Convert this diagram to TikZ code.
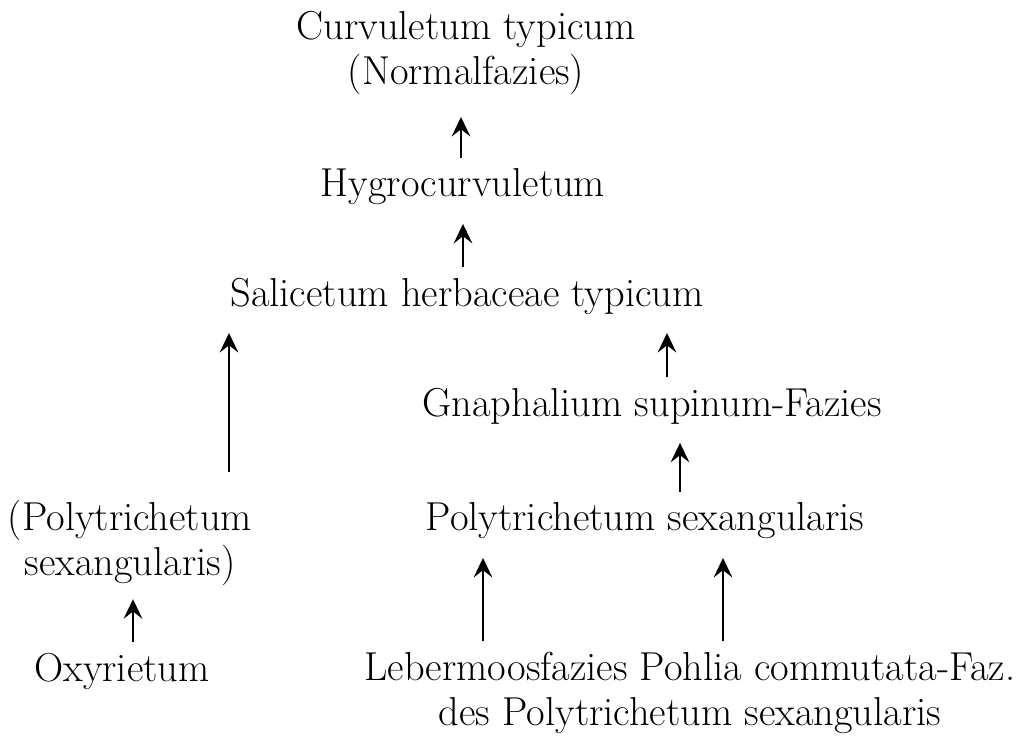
\documentclass[tikz,border=0pt]{standalone}
\usetikzlibrary{arrows.meta,calc,positioning}
\tikzset{
  pflanze/.style={inner sep=0pt, font=\fontsize{23}{25.6}\selectfont, align=center},
  folge/.style={line width=1.7pt, shorten <=6pt, shorten >=9pt,
    -{Stealth[length=11pt,width=10.5pt,inset=4pt,sep=1.5pt]}}
}

\begin{document}
\begin{tikzpicture}[x=0.02cm,y=-0.02cm]
\useasboundingbox (0,0) rectangle (1025,740);
% communities
\node[pflanze] (curv) at (466,53) {Curvuletum typicum\\(Normalfazies)};
\node[pflanze] (hygro) at (463,187) {Hygrocurvuletum};
\node[pflanze] (salix) at (467,296) {Salicetum herbaceae typicum};
\node[pflanze] (gnaph) at (652,406) {Gnaphalium supinum-Fazies};
\node[pflanze] (polysex) at (645,521) {Polytrichetum sexangularis};
\node[pflanze] (polyklam) at (130,543) {(Polytrichetum\\sexangularis)};
\node[pflanze] (oxy) at (122,671) {Oxyrietum};
\node[pflanze] (unten) at (690,693) {Lebermoosfazies Pohlia commutata-Faz.\\des Polytrichetum sexangularis};
% arrows
\draw[folge, shorten >=11pt] (hygro.north -| 461,0) -- (curv.south -| 461,0);
\draw[folge] (salix.north -| 463,0) -- (hygro.south -| 463,0);
\draw[folge, shorten <=16pt] (polyklam.north -| 229,0) -- (salix.south -| 229,0);
\draw[folge] (gnaph.north -| 667,0) -- (salix.south -| 667,0);
\draw[folge] (polysex.north -| 680,0) -- (gnaph.south -| 680,0);
\draw[folge, shorten >=6pt] (oxy.north -| 133,0) -- (polyklam.south -| 133,0);
\draw[folge] (unten.north -| 483,0) -- (polysex.south -| 483,0);
\draw[folge] (unten.north -| 723,0) -- (polysex.south -| 723,0);
\end{tikzpicture}
\end{document}
